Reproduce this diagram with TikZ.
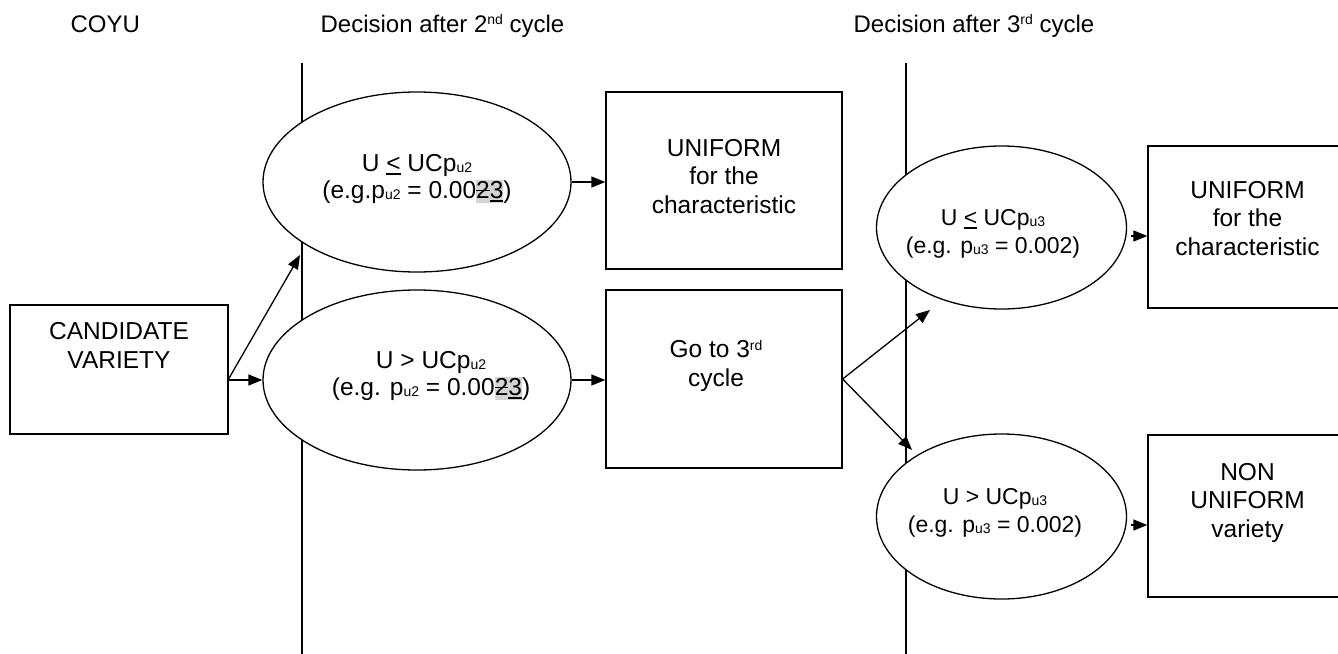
\documentclass[tikz,border=0pt]{standalone}
\usepackage{fontspec}
\setmainfont{Liberation Sans}
\usetikzlibrary{arrows.meta,shapes.geometric}
\definecolor{hlgray}{gray}{0.83}
\newcommand{\sbs}[1]{\raisebox{-1.5pt}{\fontsize{14}{14}\selectfont #1}}
\newcommand{\sps}[1]{\raisebox{7.5pt}{\fontsize{14}{14}\selectfont #1}}
\newcommand{\ulc}[1]{\leavevmode\setbox0\hbox{#1}\rlap{\rule[-3.5pt]{\wd0}{1.5pt}}\box0\relax}
\newcommand{\strk}[1]{\leavevmode\setbox0\hbox{#1}\rlap{\rule[7pt]{\wd0}{1.4pt}}\box0\relax}
\newcommand{\trk}{{\setlength{\fboxsep}{0pt}\colorbox{hlgray}{\rule[-5pt]{0pt}{23pt}\strk{2}\ulc{3}}}}
\tikzset{
  every picture/.style={line width=1.3pt},
  boxn/.style={draw, rectangle, inner sep=0pt},
  elln/.style={draw, ellipse, fill=white, inner sep=0pt},
  txt/.style={align=center, anchor=base, inner sep=0pt, font=\fontsize{24.5}{28.5}\selectfont},
  etxt/.style={align=center, anchor=base, inner sep=0pt, font=\fontsize{24.5}{27}\selectfont},
  hdr/.style={anchor=base west, inner sep=0pt, font=\fontsize{24}{28}\selectfont},
  arr/.style={-{Triangle[length=14pt,width=11pt]}},
}
\begin{document}
\begin{tikzpicture}[x=1pt,y=-1pt]
\useasboundingbox (0,0) rectangle (1338,653);
\clip (0,0) rectangle (1338,653);
% headers
\node[hdr] (h0) at (70,32) {COYU};
\node[hdr] (h1) at (320,32) {Decision after 2\sps{nd} cycle};
\node[hdr] (h2) at (853,32) {Decision after 3\sps{rd} cycle};
% vertical lines
\coordinate (v1t) at (302,63);
\coordinate (v1b) at (302,660);
\coordinate (v2t) at (906,63);
\coordinate (v2b) at (906,660);
\draw (v1t) -- (v1b);
\draw (v2t) -- (v2b);
% boxes
\node[boxn, minimum width=218pt, minimum height=129pt] (cand) at (119,369.5) {};
\node[boxn, minimum width=236pt, minimum height=177pt] (u1) at (724,180.5) {};
\node[boxn, minimum width=236pt, minimum height=178pt] (go) at (724,379) {};
\node[boxn, minimum width=199pt, minimum height=162pt] (u2) at (1247.5,227) {};
\node[boxn, minimum width=199pt, minimum height=162pt] (nu) at (1247.5,516) {};
% ellipses
\node[elln, minimum width=308pt, minimum height=180pt] (e1) at (417,182) {};
\node[elln, minimum width=308pt, minimum height=180pt] (e2) at (417,380) {};
\node[elln, minimum width=250pt, minimum height=163pt] (e3) at (1001.5,227.5) {};
\node[elln, minimum width=250pt, minimum height=165pt] (e4) at (1001.5,516.5) {};
% texts (anchor base = baseline of last line)
\node[txt] (candt) at (119,368) {CANDIDATE\\VARIETY};
\node[txt] (u1t) at (724,213) {UNIFORM\\for the\\characteristic};
\node[txt] (got) at (716,386) {Go to 3\sps{rd}\\cycle};
\node[txt] (u2t) at (1247.5,255) {UNIFORM\\for the\\characteristic};
\node[txt] (nut) at (1247.5,537) {NON\\UNIFORM\\variety};
\node[etxt] (e1t) at (417,198) {U \ulc{<} UCp\sbs{u2}\\(e.g.p\sbs{u2} = 0.00\trk)};
\node[etxt] (e2t) at (431,395) {U > UCp\sbs{u2}\\(e.g. p\sbs{u2} = 0.00\trk)};
\node[etxt, font=\fontsize{23}{28}\selectfont] (e3t) at (993,253) {U \ulc{<} UCp\sbs{u3}\\(e.g. p\sbs{u3} = 0.002)};
\node[etxt, font=\fontsize{23}{28}\selectfont] (e4t) at (995,532) {U > UCp\sbs{u3}\\(e.g. p\sbs{u3} = 0.002)};
% connectors
\coordinate (co) at (228,380);
\coordinate (upend) at (300,255);
\draw[arr] (co) -- (e2.west |- co);
\draw[arr] (co) -- (upend);
\draw[arr] (e1.east) -- (u1.west |- e1.east);
\draw[arr] (e2.east) -- (go.west |- e2.east);
\coordinate (t3) at (930,310);
\coordinate (t4) at (912,450);
\draw[arr] (go.east) -- (t3);
\draw[arr] (go.east) -- (t4);
\coordinate (a3) at (1131,236);
\coordinate (a4) at (1131,525);
\draw[arr] (a3) -- (u2.west |- a3);
\draw[arr] (a4) -- (nu.west |- a4);
\end{tikzpicture}
\end{document}
